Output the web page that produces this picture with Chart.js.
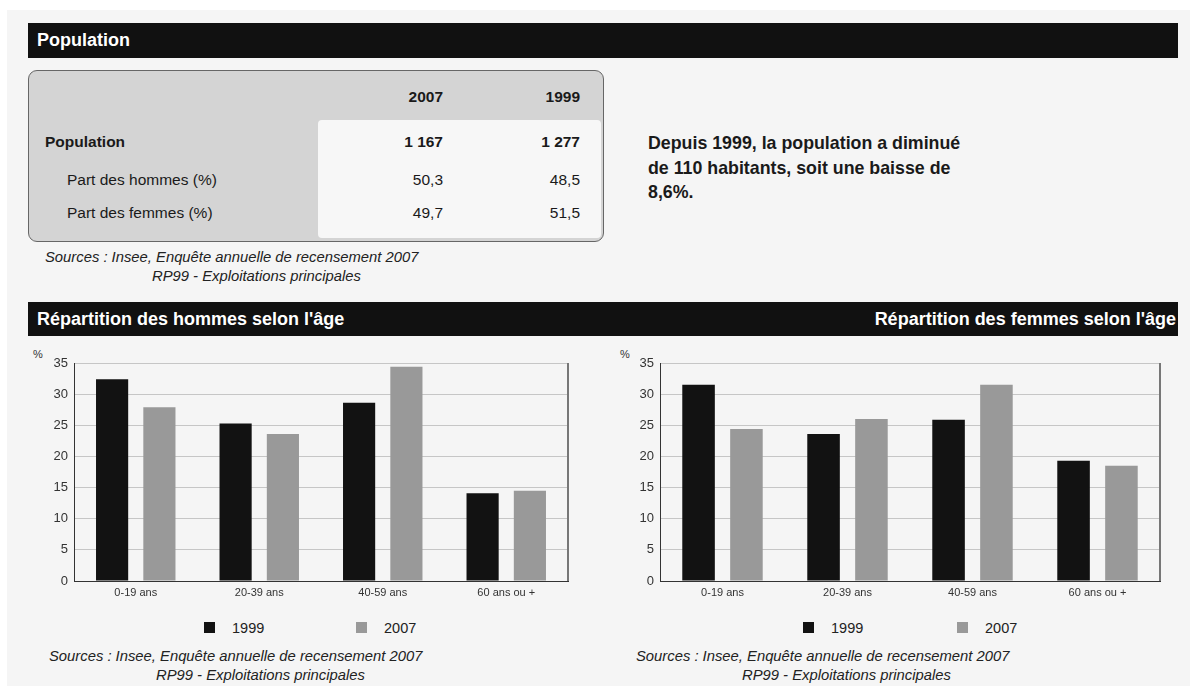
<!DOCTYPE html>
<html lang="fr">
<head>
<meta charset="utf-8">
<title>Population</title>
<script src="https://cdn.jsdelivr.net/npm/chart.js@4/dist/chart.umd.min.js"></script>
<style>
    body { margin: 0; width: 1190px; height: 686px; background: #fff; position: relative; overflow: hidden;
           font-family: "Liberation Sans", Arial, sans-serif; color: #1a1a1a; }
    .panel { position: absolute; left: 7px; top: 10px; right: 0; bottom: 0; background: #f5f5f5; }
    .bar { position: absolute; left: 28px; width: 1150px; background: #111; color: #fff; font-weight: bold; font-size: 18px; }
    .box { position: absolute; left: 28px; top: 70px; width: 574px; height: 170px; border: 1px solid #666;
           border-radius: 9px; background: #d4d4d4; }
    .inner { position: absolute; left: 289px; top: 49px; width: 283px; height: 118px; border-radius: 4px; background: #f7f7f7; }
    .t { position: absolute; white-space: nowrap; line-height: 20px; }
    .src { font-style: italic; font-size: 14.8px; color: #222; }
    .sq { position: absolute; width: 11px; height: 11px; }
    canvas { position: absolute; }
</style>
</head>
<body>
<div class="panel"></div>
<div class="bar" style="top:23px;height:35px;line-height:35px;padding-left:9px;box-sizing:border-box;">Population</div>
<div class="box"><div class="inner"></div></div>
<div class="bar" style="top:302px;height:34px;line-height:34px;">
    <span style="position:absolute;left:9px;">Répartition des hommes selon l'âge</span>
    <span style="position:absolute;right:2px;">Répartition des femmes selon l'âge</span>
</div>
<div id="texts"></div>
<div style="position:absolute;left:20px;top:345px;width:560px;height:255px;"><canvas id="hommesChart"></canvas></div>
<div style="position:absolute;left:605px;top:345px;width:570px;height:255px;"><canvas id="femmesChart"></canvas></div>

<script>
// tableau
const tableYears = ['2007', '1999'];
const tableLabels = ['Population', 'Part des hommes (%)', 'Part des femmes (%)'];
const table2007 = ['1 167', '50,3', '49,7'];
const table1999 = ['1 277', '48,5', '51,5'];

// graphiques
const ageGroups = ['0-19 ans', '20-39 ans', '40-59 ans', '60 ans ou +'];
const seriesYears = ['1999', '2007'];
const hommes1999 = [32.4, 25.3, 28.6, 14.1];
const hommes2007 = [27.9, 23.6, 34.4, 14.5];
const femmes1999 = [31.5, 23.6, 25.9, 19.3];
const femmes2007 = [24.4, 26.0, 31.5, 18.5];
const yMax = 35;
const yStep = 5;

const commentLines = ['Depuis 1999, la population a diminué', 'de 110 habitants, soit une baisse de', '8,6%.'];
const sourceLines = ['Sources : Insee, Enquête annuelle de recensement 2007', 'RP99 - Exploitations principales'];

const colors = ['#121212', '#999999'];

const holder = document.getElementById('texts');
function txt(str, x, y, css, align) {
    const d = document.createElement('div');
    d.className = 't';
    d.textContent = str;
    d.style.top = (y - 10) + 'px';
    if (align === 'right') d.style.right = (1190 - x) + 'px';
    else d.style.left = x + 'px';
    if (css) d.style.cssText += css;
    holder.appendChild(d);
    return d;
}

// table texts
const colRight = [443, 580];
const rowY = [142, 180, 213];
tableYears.forEach((y, i) => txt(y, colRight[i], 97, 'font-weight:bold;font-size:15.5px;', 'right'));
tableLabels.forEach((lab, r) => {
    const bold = r === 0 ? 'font-weight:bold;' : '';
    txt(lab, r === 0 ? 45 : 67, rowY[r], bold + 'font-size:15.5px;');
    txt(table2007[r], colRight[0], rowY[r], bold + 'font-size:15.5px;', 'right');
    txt(table1999[r], colRight[1], rowY[r], bold + 'font-size:15.5px;', 'right');
});
txt(sourceLines[0], 45, 257).className += ' src';
txt(sourceLines[1], 152, 276).className += ' src';

commentLines.forEach((l, i) => txt(l, 648, 143 + i * 24.5, 'font-weight:bold;font-size:17.8px;'));

// sources + legends under charts
[[49, 156], [636, 742]].forEach(([a, b]) => {
    txt(sourceLines[0], a, 656).className += ' src';
    txt(sourceLines[1], b, 675).className += ' src';
});
[[204, 356], [803, 957]].forEach(xs => {
    seriesYears.forEach((yr, i) => {
        const sq = document.createElement('div');
        sq.className = 'sq';
        sq.style.left = xs[i] + 'px';
        sq.style.top = '622px';
        sq.style.background = colors[i];
        holder.appendChild(sq);
        txt(yr, xs[i] + 28, 628, 'font-size:14.5px;color:#222;');
    });
});
txt('%', 33, 354, 'font-size:11px;color:#333;');
txt('%', 620, 354, 'font-size:11px;color:#333;');

const rightFrame = {
    id: 'rightFrame',
    afterDraw(chart) {
        const a = chart.chartArea;
        const ctx = chart.ctx;
        ctx.save();
        ctx.strokeStyle = '#777';
        ctx.lineWidth = 2;
        ctx.beginPath();
        ctx.moveTo(a.right, a.top);
        ctx.lineTo(a.right, a.bottom);
        ctx.stroke();
        ctx.restore();
    }
};

function createAgeChart(canvasId, values1999, values2007, yWidth, padRight) {
    new Chart(document.getElementById(canvasId), {
        type: 'bar',
        data: {
            labels: ageGroups,
            datasets: [
                { label: seriesYears[0], data: values1999, backgroundColor: colors[0] },
                { label: seriesYears[1], data: values2007, backgroundColor: colors[1] }
            ]
        },
        options: {
            responsive: true,
            maintainAspectRatio: false,
            animation: false,
            categoryPercentage: 0.766,
            barPercentage: 0.68,
            layout: { padding: { top: 18, right: padRight, left: 0, bottom: 0 } },
            plugins: { legend: { display: false }, tooltip: { enabled: false } },
            scales: {
                x: {
                    grid: { display: false, drawTicks: false },
                    border: { display: true, color: '#333', width: 1 },
                    ticks: { color: '#333', padding: 5, font: { family: 'Liberation Sans', size: 11 } },
                    afterFit: s => { s.height = 19; }
                },
                y: {
                    min: 0,
                    max: yMax,
                    grid: { color: '#c6c6c6', drawTicks: false },
                    border: { display: true, color: '#333', width: 1 },
                    ticks: { stepSize: yStep, color: '#333', padding: 6, font: { family: 'Liberation Sans', size: 13 } },
                    afterFit: s => { s.width = yWidth; }
                }
            }
        },
        plugins: [rightFrame]
    });
}

createAgeChart('hommesChart', hommes1999, hommes2007, 54, 12);
createAgeChart('femmesChart', femmes1999, femmes2007, 55, 15);
</script>
</body>
</html>
